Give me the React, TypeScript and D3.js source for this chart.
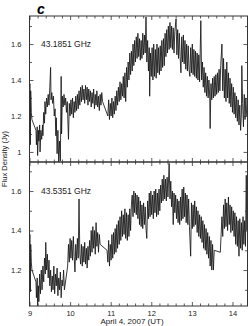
import React, { useEffect, useRef } from 'react';
import * as d3 from 'd3';

// 43.1851 GHz, hours UT (April 4, 2007) and flux density in Jy
const topTimes = [
  9.00, 9.01, 9.02, 9.03, 9.045, 9.06,
  9.16, 9.17, 9.19, 9.20, 9.22, 9.23, 9.25, 9.26, 9.28, 9.30, 9.32, 9.33, 9.35, 9.37, 9.38, 9.40,
  9.42, 9.44, 9.46, 9.48, 9.50, 9.52, 9.53, 9.55, 9.57, 9.59, 9.61, 9.63, 9.65, 9.66, 9.68, 9.70,
  9.72, 9.74, 9.76, 9.78, 9.79, 9.81, 9.83, 9.85, 9.87, 9.89, 9.91, 9.93, 9.96, 9.98,
  10.00, 10.02, 10.04, 10.06, 10.08, 10.10, 10.12, 10.14, 10.16, 10.18, 10.20, 10.22, 10.24, 10.26,
  10.28, 10.30, 10.32, 10.34, 10.36, 10.38, 10.40, 10.42, 10.44, 10.46, 10.48, 10.50, 10.52, 10.54,
  10.56, 10.58, 10.60, 10.62, 10.64, 10.66, 10.68, 10.70, 10.72, 10.74, 10.76, 10.78, 10.80,
  10.93, 10.95, 10.97, 10.99, 11.01, 11.03, 11.05, 11.07, 11.09, 11.11, 11.13, 11.15, 11.17, 11.19,
  11.21, 11.23, 11.25, 11.27, 11.29, 11.31, 11.33, 11.35, 11.37, 11.39, 11.41, 11.43, 11.45, 11.47,
  11.49, 11.51, 11.53, 11.55, 11.57, 11.59, 11.61, 11.63, 11.65, 11.67, 11.69, 11.71, 11.73, 11.75,
  11.77, 11.79, 11.81, 11.83, 11.85, 11.87, 11.89, 11.91, 11.93, 11.95, 11.96, 11.98,
  12.00, 12.02, 12.04, 12.06, 12.08, 12.10, 12.12, 12.14, 12.16, 12.18, 12.20, 12.22, 12.24, 12.26,
  12.28, 12.30, 12.32, 12.34, 12.36, 12.38, 12.40, 12.42, 12.44, 12.46, 12.48, 12.50, 12.52, 12.54,
  12.56, 12.58, 12.61, 12.63, 12.65, 12.67, 12.69, 12.71, 12.73, 12.75, 12.77, 12.79, 12.81, 12.83,
  12.85, 12.87, 12.89, 12.91, 12.93, 12.95, 12.97, 12.99, 13.01, 13.03, 13.05, 13.07, 13.09, 13.11,
  13.13, 13.15, 13.17, 13.19, 13.22, 13.24, 13.26, 13.28, 13.30, 13.32, 13.34, 13.36, 13.38, 13.40,
  13.42, 13.44, 13.45, 13.47, 13.49, 13.51, 13.53, 13.55, 13.57, 13.59, 13.61, 13.63, 13.65, 13.67,
  13.69, 13.71, 13.74, 13.76, 13.78, 13.80, 13.82, 13.84, 13.86, 13.88, 13.90, 13.92, 13.94, 13.96,
  13.98, 14.00, 14.02, 14.04, 14.06, 14.08, 14.10, 14.12, 14.14, 14.16, 14.18, 14.20, 14.22, 14.23,
  14.25, 14.27, 14.29, 14.31, 14.33, 14.35,
];
const topFlux = [
  1.30, 1.38, 1.04, 1.34, 1.22, 1.18,
  1.12, 1.04, 1.14, 0.98, 1.12, 1.06, 1.15, 1.00, 1.12, 1.07, 1.15, 1.09, 1.22, 1.16, 1.28, 1.21,
  1.30, 1.25, 1.32, 1.26, 1.36, 1.47, 1.29, 1.33, 1.27, 1.31, 1.20, 1.24, 1.09, 1.19, 0.99, 1.12,
  0.94, 1.06, 0.95, 1.42, 1.10, 1.31, 1.25, 1.32, 1.26, 1.30, 1.22, 1.28, 1.07, 1.27,
  1.20, 1.29, 1.21, 1.30, 1.19, 1.28, 1.22, 1.31, 1.23, 1.32, 1.24, 1.34, 1.26, 1.36,
  1.28, 1.37, 1.29, 1.35, 1.27, 1.37, 1.29, 1.36, 1.26, 1.35, 1.28, 1.34, 1.25, 1.33,
  1.27, 1.35, 1.24, 1.32, 1.26, 1.34, 1.25, 1.31, 1.23, 1.32, 1.26, 1.33, 1.28,
  1.20, 1.29, 1.18, 1.27, 1.20, 1.30, 1.19, 1.28, 1.21, 1.31, 1.23, 1.34, 1.26, 1.36,
  1.28, 1.39, 1.29, 1.38, 1.31, 1.42, 1.30, 1.44, 1.28, 1.47, 1.36, 1.50, 1.40, 1.55,
  1.43, 1.56, 1.45, 1.60, 1.48, 1.62, 1.50, 1.64, 1.52, 1.66, 1.53, 1.63, 1.51, 1.62,
  1.52, 1.66, 1.54, 1.65, 1.55, 1.75, 1.50, 1.62, 1.45, 1.58, 1.31, 1.55,
  1.42, 1.58, 1.40, 1.60, 1.42, 1.57, 1.41, 1.60, 1.44, 1.58, 1.43, 1.59, 1.45, 1.62,
  1.47, 1.63, 1.48, 1.66, 1.53, 1.68, 1.55, 1.70, 1.57, 1.72, 1.58, 1.70, 1.57, 1.69,
  1.55, 1.67, 1.74, 1.54, 1.68, 1.52, 1.66, 1.53, 1.44, 1.64, 1.50, 1.65, 1.49, 1.62,
  1.46, 1.60, 1.45, 1.59, 1.46, 1.42, 1.58, 1.44, 1.60, 1.43, 1.57, 1.42, 1.56, 1.41,
  1.55, 1.40, 1.54, 1.39, 1.73, 1.40, 1.50, 1.36, 1.47, 1.33, 1.44, 1.31, 1.42, 1.30,
  1.40, 1.30, 1.13, 1.38, 1.29, 1.41, 1.30, 1.42, 1.31, 1.43, 1.32, 1.44, 1.33, 1.46,
  1.34, 1.48, 1.60, 1.34, 1.52, 1.30, 1.46, 1.28, 1.50, 1.30, 1.44, 1.27, 1.41, 1.25,
  1.38, 1.22, 1.36, 1.21, 1.33, 1.19, 1.31, 1.17, 1.29, 1.15, 1.26, 1.12, 1.21, 1.48,
  1.27, 1.14, 1.32, 1.18, 1.30, 1.20,
];

// 43.5351 GHz
const bottomTimes = [
  9.00, 9.01, 9.02, 9.03, 9.045, 9.06,
  9.16, 9.17, 9.19, 9.20, 9.22, 9.23, 9.25, 9.27, 9.29, 9.31, 9.33, 9.35, 9.37, 9.39, 9.40, 9.42,
  9.44, 9.46, 9.48, 9.50, 9.52, 9.54, 9.56, 9.58, 9.60, 9.62, 9.64, 9.66, 9.68, 9.70, 9.72, 9.74,
  9.76, 9.78, 9.80, 9.82, 9.84, 9.86,
  9.94, 9.96, 9.98, 10.00, 10.02, 10.04, 10.06, 10.08, 10.10, 10.12, 10.14, 10.16, 10.18, 10.20,
  10.22, 10.24, 10.26, 10.28, 10.30, 10.32, 10.34, 10.36, 10.38, 10.40, 10.42, 10.44, 10.46, 10.48,
  10.50, 10.52, 10.54, 10.56, 10.58, 10.60, 10.62, 10.64, 10.66, 10.68, 10.70, 10.72, 10.74,
  10.91, 10.93, 10.95, 10.97, 10.99, 11.01, 11.03, 11.05, 11.07, 11.09, 11.11, 11.13, 11.15, 11.17,
  11.19, 11.21, 11.23, 11.25, 11.27, 11.29, 11.31, 11.33, 11.35, 11.37, 11.39, 11.41, 11.43, 11.45,
  11.47, 11.49, 11.51, 11.53, 11.55, 11.57, 11.59, 11.61, 11.63, 11.65, 11.67, 11.69, 11.71, 11.73,
  11.75, 11.77, 11.79, 11.81, 11.83, 11.85, 11.87, 11.89, 11.91, 11.93, 11.95, 11.97, 11.99,
  12.01, 12.03, 12.05, 12.07, 12.09, 12.11, 12.13, 12.15, 12.17, 12.19, 12.21, 12.23, 12.25, 12.27,
  12.29, 12.31, 12.33, 12.35, 12.37, 12.39, 12.41, 12.44, 12.46, 12.48, 12.50, 12.52, 12.54, 12.56,
  12.58, 12.60, 12.62, 12.64, 12.66, 12.68, 12.70, 12.72, 12.74, 12.76, 12.78, 12.80, 12.82, 12.84,
  12.86, 12.88, 12.90, 12.92, 12.94, 12.97, 12.99, 13.01, 13.03, 13.05, 13.07, 13.09, 13.11, 13.13,
  13.15, 13.17, 13.19, 13.21, 13.23, 13.25, 13.27, 13.29, 13.31, 13.33, 13.35, 13.37, 13.39, 13.41,
  13.43, 13.45, 13.47, 13.49, 13.51, 13.53, 13.55,
  13.70, 13.72, 13.74, 13.76, 13.78, 13.80, 13.82, 13.84, 13.86, 13.88, 13.90, 13.92, 13.94, 13.96,
  13.98, 14.00, 14.02, 14.04, 14.06, 14.08, 14.10, 14.12, 14.14, 14.16, 14.18, 14.20, 14.22, 14.24,
  14.26, 14.28, 14.30, 14.32, 14.34, 14.35,
];
const bottomFlux = [
  1.30, 1.38, 1.09, 1.33, 1.24, 1.20,
  1.14, 1.06, 1.16, 1.02, 1.12, 1.04, 1.18, 1.08, 1.20, 1.10, 1.22, 1.14, 1.26, 1.18, 1.34, 1.20,
  1.28, 1.16, 1.25, 1.12, 1.20, 1.09, 1.17, 1.10, 1.22, 1.08, 1.18, 1.12, 1.21, 1.07, 1.16, 1.10,
  1.19, 1.06, 1.15, 1.12, 1.20, 1.10,
  1.22, 1.33, 1.24, 1.36, 1.26, 1.35, 1.25, 1.37, 1.27, 1.19, 1.33, 1.25, 1.36, 1.26,
  1.56, 1.28, 1.23, 1.33, 1.22, 1.32, 1.24, 1.34, 1.23, 1.31, 1.21, 1.32, 1.25, 1.35,
  1.27, 1.40, 1.29, 1.42, 1.31, 1.40, 1.28, 1.44, 1.32, 1.39, 1.29, 1.38, 1.33,
  1.30, 1.24, 1.35, 1.22, 1.33, 1.25, 1.38, 1.26, 1.39, 1.28, 1.41, 1.29, 1.43, 1.31,
  1.45, 1.33, 1.47, 1.35, 1.50, 1.37, 1.48, 1.38, 1.51, 1.36, 1.49, 1.35, 1.48, 1.37,
  1.51, 1.40, 1.53, 1.58, 1.47, 1.60, 1.49, 1.59, 1.48, 1.58, 1.46, 1.57, 1.43, 1.55,
  1.42, 1.53, 1.41, 1.54, 1.43, 1.52, 1.41, 1.36, 1.55, 1.46, 1.59, 1.47, 1.60,
  1.48, 1.58, 1.46, 1.60, 1.49, 1.61, 1.47, 1.59, 1.48, 1.61, 1.50, 1.63, 1.54, 1.66,
  1.55, 1.68, 1.56, 1.66, 1.55, 1.67, 1.57, 1.74, 1.56, 1.65, 1.52, 1.60, 1.43, 1.59,
  1.49, 1.58, 1.46, 1.56, 1.44, 1.55, 1.43, 1.57, 1.45, 1.61, 1.46, 1.62, 1.47, 1.59,
  1.44, 1.58, 1.43, 1.56, 1.42, 1.27, 1.54, 1.41, 1.53, 1.42, 1.55, 1.43, 1.52, 1.39,
  1.50, 1.37, 1.48, 1.36, 1.47, 1.34, 1.45, 1.31, 1.43, 1.30, 1.41, 1.28, 1.39, 1.26,
  1.37, 1.22, 1.35, 1.20, 1.33, 1.20, 1.30,
  1.29, 1.38, 1.47, 1.37, 1.53, 1.41, 1.56, 1.42, 1.54, 1.40, 1.57, 1.43, 1.53, 1.39,
  1.52, 1.40, 1.50, 1.37, 1.49, 1.33, 1.47, 1.32, 1.45, 1.27, 1.46, 1.31, 1.44, 1.30,
  1.47, 1.33, 1.45, 1.32, 1.68, 1.40,
];

const hourTicks = [9, 10, 11, 12, 13, 14];
const hourMinor = [9.2, 9.4, 9.6, 9.8, 10.2, 10.4, 10.6, 10.8, 11.2, 11.4, 11.6, 11.8,
  12.2, 12.4, 12.6, 12.8, 13.2, 13.4, 13.6, 13.8, 14.2];
const topFluxTicks = [1, 1.2, 1.4, 1.6];
const bottomFluxTicks = [1.2, 1.4, 1.6];
const fluxMinor = [1.1, 1.3, 1.5, 1.7];
const panelLabels = ['43.1851 GHz', '43.5351 GHz'];

const W = 248, H = 326;
const left = 29.5, right = 247.5;
const font = 'Liberation Sans, Arial, sans-serif';

export default function App() {
  const ref = useRef<SVGSVGElement>(null);

  useEffect(() => {
    const svg = d3.select(ref.current);
    svg.selectAll('*').remove();

    const x = d3.scaleLinear().domain([9, 14.37]).range([left, right]);
    const panels = [
      { times: topTimes, flux: topFlux, y0: 16, y1: 162, dom: [0.944, 1.756], ticks: topFluxTicks, label: panelLabels[0] },
      { times: bottomTimes, flux: bottomFlux, y0: 162, y1: 306, dom: [1.018, 1.747], ticks: bottomFluxTicks, label: panelLabels[1] },
    ];

    panels.forEach((p, pi) => {
      const y = d3.scaleLinear().domain(p.dom).range([p.y1, p.y0]);
      const g = svg.append('g');
      const clipId = 'clip' + pi;
      g.append('clipPath').attr('id', clipId).append('rect')
        .attr('x', left).attr('y', p.y0).attr('width', right - left).attr('height', p.y1 - p.y0);

      const pts = p.times.map((t, i) => [t, p.flux[i]] as [number, number]);
      const line = d3.line<[number, number]>().x(d => x(d[0])).y(d => y(d[1]));
      g.append('path').datum(pts)
        .attr('d', line)
        .attr('fill', 'none')
        .attr('stroke', '#151515')
        .attr('stroke-width', 0.85)
        .attr('clip-path', `url(#${clipId})`);

      const axes: [any, number, boolean][] = [
        [d3.axisBottom(x).tickValues(hourTicks).tickSize(-4), p.y1, pi === 1],
        [d3.axisBottom(x).tickValues(hourMinor).tickSize(-2.5), p.y1, false],
        [d3.axisTop(x).tickValues(hourTicks).tickSize(-4), p.y0, false],
        [d3.axisTop(x).tickValues(hourMinor).tickSize(-2.5), p.y0, false],
      ];
      axes.forEach(([ax, ty, labels]) => {
        const a = g.append('g').attr('transform', `translate(0,${ty})`)
          .call(ax.tickSizeOuter(0).tickPadding(5).tickFormat(labels ? d3.format('d') : () => ''));
        a.select('.domain').remove();
      });

      const yAxes: [any, number, boolean][] = [
        [d3.axisLeft(y).tickValues(p.ticks).tickSize(-4), left, true],
        [d3.axisLeft(y).tickValues(fluxMinor).tickSize(-2.5), left, false],
        [d3.axisRight(y).tickValues(p.ticks).tickSize(-4), right, false],
        [d3.axisRight(y).tickValues(fluxMinor).tickSize(-2.5), right, false],
      ];
      yAxes.forEach(([ax, tx, labels]) => {
        const a = g.append('g').attr('transform', `translate(${tx},0)`)
          .call(ax.tickSizeOuter(0).tickPadding(8)
            .tickFormat(labels ? (d: number) => String(Math.round(d * 10) / 10) : () => ''));
        a.select('.domain').remove();
      });

      g.selectAll('.tick line').attr('stroke', '#333').attr('stroke-width', 0.8);
      g.selectAll('.tick text').attr('fill', '#222').attr('font-family', font).attr('font-size', 7.5);

      g.append('rect')
        .attr('x', left).attr('y', p.y0).attr('width', right - left).attr('height', p.y1 - p.y0)
        .attr('fill', 'none').attr('stroke', '#333').attr('stroke-width', 1);

      g.append('text')
        .attr('x', 41).attr('y', y(1.6) + 3)
        .attr('font-family', font).attr('font-size', 8.5).attr('fill', '#222')
        .text(p.label);
    });

    svg.append('text')
      .attr('x', 37).attr('y', 14)
      .attr('font-family', font).attr('font-size', 14)
      .attr('font-weight', 'bold').attr('font-style', 'italic')
      .text('c');

    svg.append('text')
      .attr('transform', 'translate(7,159) rotate(-90)')
      .attr('text-anchor', 'middle')
      .attr('font-family', font).attr('font-size', 7.5).attr('fill', '#222')
      .text('Flux Density (Jy)');

    svg.append('text')
      .attr('x', 132).attr('y', 324)
      .attr('text-anchor', 'middle')
      .attr('font-family', font).attr('font-size', 8).attr('fill', '#222')
      .text('April 4, 2007 (UT)');
  }, []);

  return (
    <svg ref={ref} width={W} height={H}
      style={{ position: 'absolute', left: 0, top: 0, background: '#fff' }} />
  );
}
